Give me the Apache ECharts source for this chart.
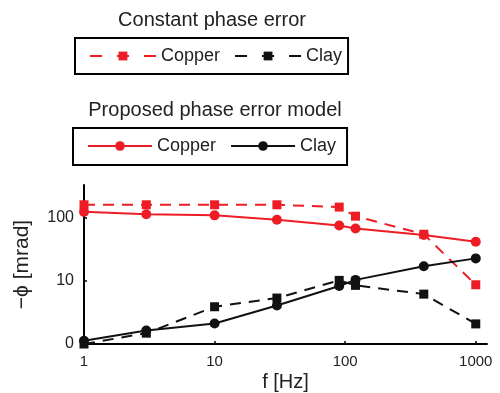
<!DOCTYPE html>
<html>
<head>
<meta charset="utf-8">
<script src="https://cdn.jsdelivr.net/npm/echarts@6/dist/echarts.min.js"></script>
<style>
html,body{margin:0;padding:0;background:#fff;}
#chart{width:500px;height:393px;}
</style>
</head>
<body>
<div id="chart"></div>
<script>
// ---- data ----
const freqs = [1, 3, 10, 30, 90, 120, 400, 1000];                 // f [Hz]
const copperConst = [155, 155, 155, 155, 143, 104, 55, 8.5];      // -phi [mrad], constant phase error
const clayConst   = [0, 0.57, 3.3, 4.9, 10.1, 8.3, 5.8, 1.26];
const copperModel = [121, 111, 107, 92, 75, 67.5, 53.5, 42];      // proposed phase error model
const clayModel   = [0.15, 0.75, 1.3, 3.5, 8.1, 10.3, 17.3, 23.1];
const xTicks = [1, 10, 100, 1000];
const yTicks = [0, 10, 100];
const titleConst = 'Constant phase error';
const titleModel = 'Proposed phase error model';

// ---- y scale: logarithmic with an offset so that 0 can be shown ----
const OFFSET = 1.25;
const tf = v => Math.log10(v + OFFSET);
const itf = t => Math.pow(10, t) - OFFSET;
const yMin = tf(0);
const yMax = tf(0) + (161 / 64.15) * (tf(10) - tf(0));

const RED = '#ee1d25';
const BLACK = '#111111';
const FONT = 'Liberation Sans, Arial, Helvetica, sans-serif';

const pts = arr => freqs.map((f, i) => [f, tf(arr[i])]);

const chart = echarts.init(document.getElementById('chart'), null, {renderer: 'canvas'});
chart.setOption({
  animation: false,
  backgroundColor: '#fff',
  textStyle: {fontFamily: FONT},
  grid: {left: 84, right: 13, top: 185, bottom: 47, containLabel: false},
  graphic: [
    {type: 'text', x: 212, y: 20,
     style: {text: titleConst, font: '20px ' + FONT, fill: '#222', textAlign: 'center', textVerticalAlign: 'middle'}},
    {type: 'text', x: 215, y: 110,
     style: {text: titleModel, font: '20px ' + FONT, fill: '#222', textAlign: 'center', textVerticalAlign: 'middle'}}
  ],
  legend: [
    {
      left: 75, top: 38,
      data: [
        {name: 'Copper', lineStyle: {type: [12, 15]}},
        {name: 'Clay', lineStyle: {type: [12, 15]}}
      ],
      itemWidth: 66, itemHeight: 11, itemGap: 14, itemTextGap: 6,
      padding: [9, 6, 9, 14],
      borderColor: '#000', borderWidth: 2, borderRadius: 0,
      textStyle: {fontSize: 18, color: '#222', fontFamily: FONT},
      selectedMode: false
    },
    {
      left: 73, top: 128,
      data: ['Copper ', 'Clay '],
      formatter: n => n.trim(),
      itemWidth: 64, itemHeight: 12, itemGap: 14, itemTextGap: 8,
      padding: [9, 11, 10, 14],
      borderColor: '#000', borderWidth: 2, borderRadius: 0,
      textStyle: {fontSize: 18, color: '#222', fontFamily: FONT},
      selectedMode: false
    }
  ],
  xAxis: {
    type: 'log', logBase: 10, min: 1, max: 1219,
    name: 'f [Hz]', nameLocation: 'middle', nameGap: 28,
    nameTextStyle: {fontSize: 20, color: '#222', fontFamily: FONT, verticalAlign: 'top'},
    axisLine: {show: true, lineStyle: {color: '#000', width: 2}},
    axisTick: {show: true, inside: true, length: 3, lineStyle: {color: '#000', width: 1.5}, customValues: xTicks},
    axisLabel: {customValues: xTicks, fontSize: 15, color: '#222', margin: 10, fontFamily: FONT,
                formatter: v => String(Math.round(v))},
    splitLine: {show: false},
    minorTick: {show: false}
  },
  yAxis: {
    type: 'value', min: yMin, max: yMax,
    name: '\u2212\u03d5 [mrad]', nameLocation: 'middle', nameGap: 51, nameRotate: 90,
    nameTextStyle: {fontSize: 21, color: '#222', fontFamily: FONT},
    axisLine: {show: true, lineStyle: {color: '#000', width: 2}},
    axisTick: {show: true, inside: true, length: 3, lineStyle: {color: '#000', width: 1.5}, customValues: yTicks.map(tf)},
    axisLabel: {customValues: yTicks.map(tf), fontSize: 16, color: '#222', margin: 10, fontFamily: FONT,
                formatter: v => String(Math.round(itf(v)))},
    splitLine: {show: false}
  },
  series: [
    {name: 'Copper', type: 'line', data: pts(copperConst), symbol: 'rect', symbolSize: 9,
     lineStyle: {color: RED, width: 2, type: [11, 8]}, itemStyle: {color: RED}, z: 2},
    {name: 'Clay', type: 'line', data: pts(clayConst), symbol: 'rect', symbolSize: 9,
     lineStyle: {color: BLACK, width: 2, type: [11, 8]}, itemStyle: {color: BLACK}, z: 3},
    {name: 'Copper ', type: 'line', data: pts(copperModel), symbol: 'circle', symbolSize: 10,
     lineStyle: {color: RED, width: 2}, itemStyle: {color: RED}, z: 2},
    {name: 'Clay ', type: 'line', data: pts(clayModel), symbol: 'circle', symbolSize: 10,
     lineStyle: {color: BLACK, width: 2}, itemStyle: {color: BLACK}, z: 3}
  ]
});
</script>
</body>
</html>
